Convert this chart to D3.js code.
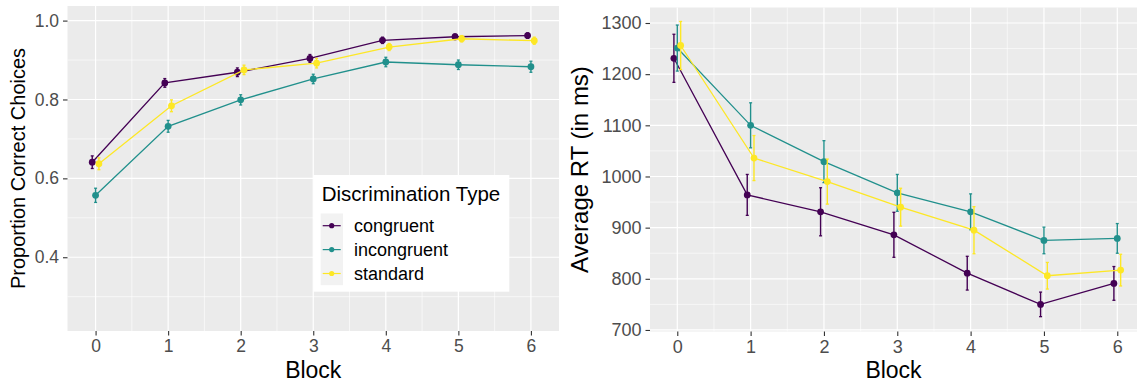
<!DOCTYPE html>
<html lang="en">
<head>
<meta charset="utf-8">
<title>Discrimination by block</title>
<script src="https://d3js.org/d3.v7.min.js"></script>
<style>
  body { margin: 0; background: #fff; }
  svg { display: block; font-family: "Liberation Sans", Arial, sans-serif; }
  .tick text { fill: #4D4D4D; }
</style>
</head>
<body>
<div id="chart"></div>
<script>
// blocks and discrimination types
var blocks = [0, 1, 2, 3, 4, 5, 6];
var types = ["congruent", "incongruent", "standard"];
var typeColors = ["#440154", "#21908C", "#FDE725"];

// proportion correct choices (mean and error)
var accCongruent   = [0.641, 0.842, 0.869, 0.904, 0.950, 0.959, 0.962];
var accIncongruent = [0.557, 0.732, 0.799, 0.852, 0.895, 0.888, 0.883];
var accStandard    = [0.637, 0.784, 0.875, 0.892, 0.933, 0.954, 0.949];
var accErrCongruent   = [0.016, 0.011, 0.011, 0.010, 0.008, 0.007, 0.007];
var accErrIncongruent = [0.018, 0.015, 0.013, 0.012, 0.012, 0.012, 0.014];
var accErrStandard    = [0.015, 0.015, 0.012, 0.012, 0.009, 0.008, 0.009];

// average RT in ms (mean and error)
var rtCongruent   = [1231, 964, 931, 886, 811, 750, 791];
var rtIncongruent = [1251, 1100, 1029, 968, 931, 875, 879];
var rtStandard    = [1256, 1036, 990, 940, 895, 806, 817];
var rtErrCongruent   = [47, 40, 47, 44, 33, 24, 33];
var rtErrIncongruent = [45, 44, 41, 36, 35, 26, 29];
var rtErrStandard    = [47, 44, 44, 37, 46, 26, 31];

// tick values
var accTicks = [0.4, 0.6, 0.8, 1.0];
var accMinor = [0.3, 0.5, 0.7, 0.9];
var rtTicks = [700, 800, 900, 1000, 1100, 1200, 1300];
var rtMinor = [750, 850, 950, 1050, 1150, 1250];
var blockMinor = [0.5, 1.5, 2.5, 3.5, 4.5, 5.5];

var W = 1137, H = 384;
var svg = d3.select("#chart").append("svg")
    .attr("width", W)
    .attr("height", H);

function makeSeries(means, errs) {
  return types.map(function(t, i) {
    return blocks.map(function(b, j) {
      return {type: t, idx: i, block: b, mean: means[i][j], err: errs[i][j]};
    });
  });
}

function drawPanel(cfg) {
  var x = d3.scaleLinear().domain(cfg.xDomain).range([cfg.left, cfg.right]);
  var y = d3.scaleLinear().domain(cfg.yDomain).range([cfg.bottom, cfg.top]);
  var g = svg.append("g");

  // panel background
  g.append("rect")
    .attr("x", cfg.left).attr("y", cfg.top)
    .attr("width", cfg.right - cfg.left).attr("height", cfg.bottom - cfg.top)
    .attr("fill", "#EBEBEB");

  // minor grid
  g.selectAll(".minx").data(blockMinor).enter().append("line")
    .attr("x1", function(d) { return x(d); }).attr("x2", function(d) { return x(d); })
    .attr("y1", cfg.top).attr("y2", cfg.bottom)
    .attr("stroke", "#fff").attr("stroke-width", 0.6);
  g.selectAll(".miny").data(cfg.yMinor).enter().append("line")
    .attr("y1", function(d) { return y(d); }).attr("y2", function(d) { return y(d); })
    .attr("x1", cfg.left).attr("x2", cfg.right)
    .attr("stroke", "#fff").attr("stroke-width", 0.6);
  // major grid
  g.selectAll(".majx").data(blocks).enter().append("line")
    .attr("x1", function(d) { return x(d); }).attr("x2", function(d) { return x(d); })
    .attr("y1", cfg.top).attr("y2", cfg.bottom)
    .attr("stroke", "#fff").attr("stroke-width", 1.2);
  g.selectAll(".majy").data(cfg.yTicks).enter().append("line")
    .attr("y1", function(d) { return y(d); }).attr("y2", function(d) { return y(d); })
    .attr("x1", cfg.left).attr("x2", cfg.right)
    .attr("stroke", "#fff").attr("stroke-width", 1.2);

  // axes
  var xAxis = g.append("g")
    .attr("transform", "translate(0," + cfg.bottom + ")")
    .call(d3.axisBottom(x).tickValues(blocks).tickSize(4.5).tickPadding(4).tickFormat(d3.format("d")));
  var yAxis = g.append("g")
    .attr("transform", "translate(" + cfg.left + ",0)")
    .call(d3.axisLeft(y).tickValues(cfg.yTicks).tickSize(4.5).tickPadding(4).tickFormat(cfg.yFormat));
  [xAxis, yAxis].forEach(function(a) {
    a.select(".domain").remove();
    a.selectAll(".tick line").attr("stroke", "#333").attr("stroke-width", 1.1);
    a.selectAll(".tick text").attr("font-size", cfg.tickSize).attr("font-family", null);
  });

  // axis titles
  g.append("text")
    .attr("x", (cfg.left + cfg.right) / 2).attr("y", 378)
    .attr("text-anchor", "middle").attr("font-size", 23).attr("fill", "#000")
    .text("Block");
  g.append("text")
    .attr("transform", "translate(" + cfg.yTitleX + "," + ((cfg.top + cfg.bottom) / 2) + ") rotate(-90)")
    .attr("text-anchor", "middle").attr("font-size", cfg.yTitleSize).attr("fill", "#000")
    .text(cfg.yTitle);

  var series = makeSeries(cfg.means, cfg.errs);
  var px = function(d) { return x(d.block + (d.idx - 1) * cfg.dodge); };
  var line = d3.line().x(px).y(function(d) { return y(d.mean); });

  series.forEach(function(s, i) {
    var col = typeColors[i];
    var sg = g.append("g");
    sg.append("path").datum(s)
      .attr("d", line).attr("fill", "none")
      .attr("stroke", col).attr("stroke-width", 1.3);
    // error bars
    sg.selectAll(".eb").data(s).enter().append("line")
      .attr("x1", px).attr("x2", px)
      .attr("y1", function(d) { return y(d.mean - d.err); })
      .attr("y2", function(d) { return y(d.mean + d.err); })
      .attr("stroke", col).attr("stroke-width", 1.4);
    sg.selectAll(".capt").data(s).enter().append("line")
      .attr("x1", function(d) { return px(d) - 1.5; }).attr("x2", function(d) { return px(d) + 1.5; })
      .attr("y1", function(d) { return y(d.mean + d.err); })
      .attr("y2", function(d) { return y(d.mean + d.err); })
      .attr("stroke", col).attr("stroke-width", 1.3);
    sg.selectAll(".capb").data(s).enter().append("line")
      .attr("x1", function(d) { return px(d) - 1.5; }).attr("x2", function(d) { return px(d) + 1.5; })
      .attr("y1", function(d) { return y(d.mean - d.err); })
      .attr("y2", function(d) { return y(d.mean - d.err); })
      .attr("stroke", col).attr("stroke-width", 1.3);
    sg.selectAll("circle").data(s).enter().append("circle")
      .attr("cx", px).attr("cy", function(d) { return y(d.mean); })
      .attr("r", 3.4).attr("fill", col);
  });
  return g;
}

// left: proportion correct
var left = drawPanel({
  left: 67.5, right: 559, top: 6, bottom: 331,
  xDomain: [-0.387, 6.387], yDomain: [0.213, 1.037],
  yTicks: accTicks, yMinor: accMinor, yFormat: d3.format(".1f"),
  means: [accCongruent, accIncongruent, accStandard],
  errs: [accErrCongruent, accErrIncongruent, accErrStandard],
  dodge: 0.046, tickSize: 17.5,
  yTitle: "Proportion Correct Choices", yTitleX: 25, yTitleSize: 20
});

// right: average RT
drawPanel({
  left: 650, right: 1137, top: 7.5, bottom: 331.5,
  xDomain: [-0.372, 6.269], yDomain: [697, 1330.3],
  yTicks: rtTicks, yMinor: rtMinor, yFormat: d3.format("d"),
  means: [rtCongruent, rtIncongruent, rtStandard],
  errs: [rtErrCongruent, rtErrIncongruent, rtErrStandard],
  dodge: 0.046, tickSize: 18,
  yTitle: "Average RT (in ms)", yTitleX: 588, yTitleSize: 24
});

// legend inside left panel
var lg = svg.append("g");
lg.append("rect")
  .attr("x", 313.3).attr("y", 175).attr("width", 196).attr("height", 116.7)
  .attr("fill", "#fff");
lg.append("text")
  .attr("x", 321.7).attr("y", 200.7)
  .attr("font-size", 20.5).attr("fill", "#000")
  .text("Discrimination Type");
var rowH = 23.9;
lg.append("rect")
  .attr("x", 320.7).attr("y", 213.5).attr("width", 22.3).attr("height", rowH * 3)
  .attr("fill", "#F2F2F2");
types.forEach(function(t, i) {
  var cy = 225.7 + i * rowH;
  lg.append("line")
    .attr("x1", 322.7).attr("x2", 340.7).attr("y1", cy).attr("y2", cy)
    .attr("stroke", typeColors[i]).attr("stroke-width", 1.2);
  lg.append("circle")
    .attr("cx", 331.7).attr("cy", cy).attr("r", 2.6).attr("fill", typeColors[i]);
  lg.append("text")
    .attr("x", 354).attr("y", cy).attr("dy", "0.35em")
    .attr("font-size", 18).attr("fill", "#000")
    .text(t);
});
</script>
</body>
</html>
